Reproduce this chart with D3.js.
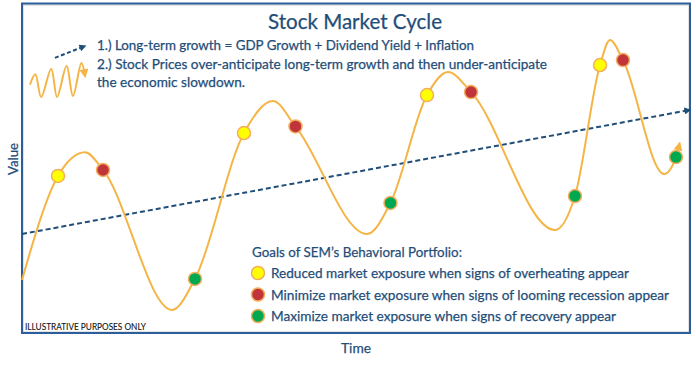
<!DOCTYPE html>
<html><head><meta charset="utf-8">
<script src="https://cdn.jsdelivr.net/npm/d3@7"></script>
<style>body{margin:0;background:#fff} svg{display:block} text{font-family:Lato,"Open Sans",sans-serif}</style>
</head><body><svg id="c" width="696" height="365"></svg>
<script>
// ---- data (illustrative units: time 0-100, value 0-100) ----
const curveTime  = [0, 5.39, 9.43, 12.13, 22.46, 25.90, 33.23, 37.57, 40.94, 51.65, 55.16, 60.63, 63.77, 67.22, 79.79, 82.78, 86.53, 88.02, 89.97, 96.11, 97.90, 98.45];
const curveValue = [16.1, 47.6, 54.8, 49.4, 7.0, 16.4, 60.6, 70.3, 62.6, 30.0, 39.4, 72.1, 79.1, 73.0, 31.2, 41.5, 81.2, 88.8, 82.7, 48.2, 53.3, 57.5];
const trendTime  = [0, 100];
const trendValue = [30.0, 67.6];
const yellowTime = [5.39, 33.23, 60.63, 86.53];
const yellowValue= [47.6, 60.6, 72.1, 81.2];
const redTime    = [12.13, 40.94, 67.22, 89.97];
const redValue   = [49.4, 62.6, 73.0, 82.7];
const greenTime  = [25.90, 55.16, 82.78, 97.90];
const greenValue = [16.4, 39.4, 41.5, 53.3];
const titleText  = "Stock Market Cycle";
const noteLines  = ["1.) Long-term growth = GDP Growth + Dividend Yield + Inflation",
                    "2.) Stock Prices over-anticipate long-term growth and then under-anticipate",
                    "the economic slowdown."];
const legendTitle = "Goals of SEM\u2019s Behavioral Portfolio:";
const legendLabels = ["Reduced market exposure when signs of overheating appear",
                      "Minimize market exposure when signs of looming recession appear",
                      "Maximize market exposure when signs of recovery appear"];
// icon wave (relative units)
const iconWaveX = [0, 1, 2.1, 4, 5.1, 6.9, 8.1, 9.7, 10.4];
const iconWaveY = [2.4, 4.4, 0, 5.5, 0, 6, 0.2, 6.6, 4];
const iconTrendX = [4.7, 10.4];
const iconTrendY = [7.6, 9.9];

// ---- style ----
const BLUE = "#1F4E79", FRAME = "#2C5E9C", ORANGE = "#F5B546", MSTROKE = "#F3AE5E";
const FILLS = {yellow:"#FFFF00", red:"#C1343A", green:"#00A94F"};

const svg = d3.select("#c");
const x = d3.scaleLinear().domain([0, 100]).range([22, 690]);
const y = d3.scaleLinear().domain([0, 100]).range([333, 3]);

const defs = svg.append("defs");
function arrow(id, color, w, h) {
  defs.append("marker").attr("id", id).attr("viewBox", "0 0 10 10")
    .attr("refX", 8).attr("refY", 5).attr("markerWidth", w).attr("markerHeight", h)
    .attr("markerUnits", "userSpaceOnUse").attr("orient", "auto")
    .append("path").attr("d", "M0,0 L10,5 L0,10 Z").attr("fill", color);
}
arrow("aBlue", BLUE, 8, 7);
arrow("aOrange", ORANGE, 10, 9);

// frame shadow + frame
svg.append("rect").attr("x", 23).attr("y", 5).attr("width", 666).attr("height", 327)
  .attr("fill", "none").attr("stroke", "#c8c8c8").attr("stroke-width", 1);
svg.append("rect").attr("x", 22).attr("y", 3.5).attr("width", 668).attr("height", 329.5)
  .attr("fill", "none").attr("stroke", FRAME).attr("stroke-width", 2);

// trend line
svg.append("path")
  .attr("d", d3.line().x((d,i)=>x(trendTime[i])).y((d,i)=>y(trendValue[i]))(trendTime))
  .attr("fill", "none").attr("stroke", BLUE).attr("stroke-width", 2)
  .attr("stroke-dasharray", "5,3").attr("marker-end", "url(#aBlue)");

// cycle curve
svg.append("path")
  .attr("d", d3.line().curve(d3.curveMonotoneX).x((d,i)=>x(curveTime[i])).y((d,i)=>y(curveValue[i]))(curveTime))
  .attr("fill", "none").attr("stroke", ORANGE).attr("stroke-width", 2)
  .attr("marker-end", "url(#aOrange)");

// markers
function dots(ts, vs, fill) {
  svg.append("g").selectAll("circle").data(ts).join("circle")
    .attr("cx", (d)=>x(d)).attr("cy", (d,i)=>y(vs[i])).attr("r", 6.5)
    .attr("fill", fill).attr("stroke", MSTROKE).attr("stroke-width", 1.5);
}
dots(yellowTime, yellowValue, FILLS.yellow);
dots(redTime, redValue, FILLS.red);
dots(greenTime, greenValue, FILLS.green);

// text helper
function txt(str, px, py, size, color, len, anchor, rotate) {
  const t = svg.append("text").attr("x", px).attr("y", py).attr("font-size", size)
    .attr("fill", color).attr("stroke", color).attr("stroke-width", 0.25).text(str);
  if (anchor) t.attr("text-anchor", anchor);
  if (len) t.attr("textLength", len).attr("lengthAdjust", "spacingAndGlyphs");
  if (rotate) t.attr("transform", `rotate(${rotate},${px},${py})`);
  return t;
}
txt(titleText, 268, 28.5, 21, BLUE, 174);
const noteLens = [377, 450, 148];
noteLines.forEach((s, i) => txt(s, 97, 50 + i * 18.5, 13.2, BLUE, noteLens[i]));

// legend
txt(legendTitle, 252, 257, 14, BLUE, 210);
const legFills = [FILLS.yellow, FILLS.red, FILLS.green];
const legLens = [358, 398, 345];
legendLabels.forEach((s, i) => {
  const cy = 273 + i * 21.5;
  svg.append("circle").attr("cx", 258).attr("cy", cy).attr("r", 6.5)
    .attr("fill", legFills[i]).attr("stroke", MSTROKE).attr("stroke-width", 1.5);
  txt(s, 271, cy + 5, 14, BLUE, legLens[i]);
});

// misc labels
txt("ILLUSTRATIVE PURPOSES ONLY", 25, 330, 9, "#111", 121).attr("stroke-width", 0.1);
txt("Time", 341, 353, 14, BLUE, 30);
txt("Value", 18, 175, 13, BLUE, 32, null, -90);

// icon: small wave + dashed arrow
const ix = d3.scaleLinear().domain([0, 10]).range([30, 83]);
const iy = d3.scaleLinear().domain([0, 6.6]).range([97, 63]);
svg.append("path")
  .attr("d", d3.line().curve(d3.curveCatmullRom).x((d,i)=>ix(iconWaveX[i])).y((d,i)=>iy(iconWaveY[i]))(iconWaveX))
  .attr("fill", "none").attr("stroke", ORANGE).attr("stroke-width", 2)
  .attr("marker-end", "url(#aOrange)");
svg.append("path")
  .attr("d", d3.line().x((d,i)=>ix(iconTrendX[i])).y((d,i)=>iy(iconTrendY[i]))(iconTrendX))
  .attr("fill", "none").attr("stroke", BLUE).attr("stroke-width", 2)
  .attr("stroke-dasharray", "4,2.5").attr("marker-end", "url(#aBlue)");
</script></body></html>
